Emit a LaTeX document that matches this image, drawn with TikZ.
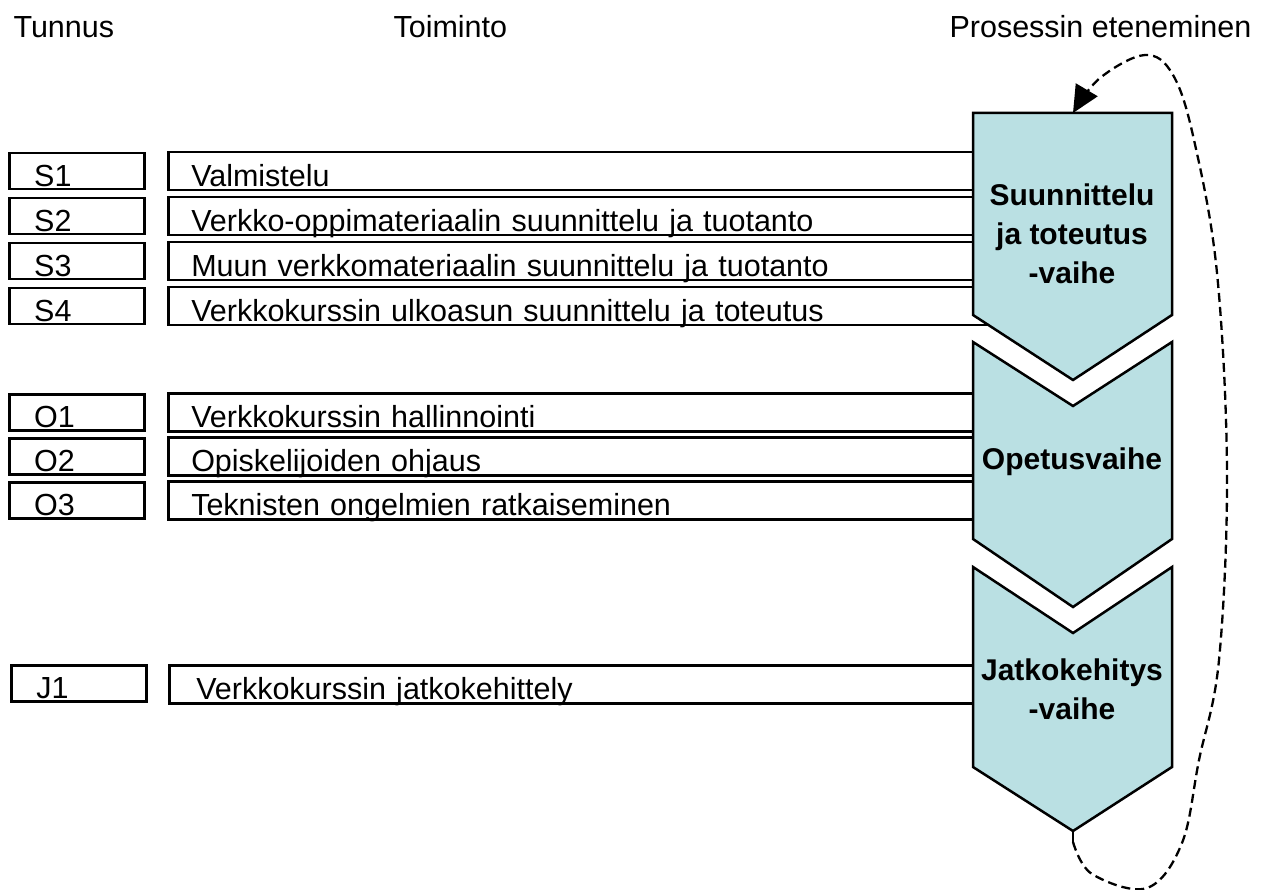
\documentclass[tikz,border=0pt]{standalone}
\usepackage{fontspec}
\setmainfont{Liberation Sans}
\usetikzlibrary{arrows.meta}
\definecolor{chevfill}{RGB}{186,224,227}
\begin{document}
\begin{tikzpicture}[x=1pt,y=-1pt,
  every node/.style={font=\fontsize{30.5}{39}\selectfont},
  idbox/.style={draw, line width=2.5pt, anchor=north west, minimum height=36pt,
    inner xsep=25pt, inner ysep=0pt, text width=85pt, align=left,
    text height=30pt, text depth=0pt},
  actbox/.style={draw, line width=2.5pt, anchor=north west, minimum height=38pt,
    inner xsep=23pt, inner ysep=0pt, text width=800pt, align=left,
    text height=31pt, text depth=0pt},
  chev/.style={draw, line width=2.5pt, fill=chevfill, line join=miter},
  chevtext/.style={align=center, font=\fontsize{30}{39}\selectfont\bfseries},
  head/.style={anchor=base west},
  loop/.style={line width=2.3pt, dash pattern=on 9pt off 5pt,
    -{Triangle[length=27pt,width=25pt]}}
]
\useasboundingbox (0,0) rectangle (1263,890);

% headers
\node[head] (hid) at (10,38) {Tunnus};
\node[head] (hact) at (390,38) {Toiminto};
\node[head] (hproc) at (946,38) {Prosessin eteneminen};

% id boxes
\node[idbox] (s1) at (8,152) {S1};
\node[idbox] (s2) at (8,197) {S2};
\node[idbox] (s3) at (8,242) {S3};
\node[idbox] (s4) at (8,287) {S4};
\node[idbox] (o1) at (8,393) {O1};
\node[idbox] (o2) at (8,437) {O2};
\node[idbox] (o3) at (8,481) {O3};
\node[idbox] (j1) at (10,664) {J1};

% activity boxes
\node[actbox] (a1) at (167,151) {Valmistelu};
\node[actbox] (a2) at (167,196) {Verkko-oppimateriaalin suunnittelu ja tuotanto};
\node[actbox] (a3) at (167,241) {Muun verkkomateriaalin suunnittelu ja tuotanto};
\node[actbox] (a4) at (167,286) {Verkkokurssin ulkoasun suunnittelu ja toteutus};
\node[actbox] (b1) at (167,392) {Verkkokurssin hallinnointi};
\node[actbox] (b2) at (167,436) {Opiskelijoiden ohjaus};
\node[actbox] (b3) at (167,480) {Teknisten ongelmien ratkaiseminen};
\node[actbox, inner xsep=27pt, text width=796pt] (c1) at (168,664) {Verkkokurssin jatkokehittely};

% chevrons
\path[chev] (973,113) -- (1172,113) -- (1172,315) -- (1073,380) -- (973,315) -- cycle;
\path[chev] (973,342) -- (1073,406) -- (1172,342) -- (1172,539) -- (1073,607) -- (973,539) -- cycle;
\path[chev] (973,567) -- (1073,633) -- (1172,567) -- (1172,767) -- (1073,831) -- (973,767) -- cycle;

\node[chevtext] (p1) at (1072,234) {Suunnittelu\\ja toteutus\\-vaihe};
\node[chevtext] (p2) at (1072,462) {Opetusvaihe};
\node[chevtext] (p3) at (1072,689) {Jatkokehitys\\-vaihe};

\coordinate (c3tip) at (1073,831);
\coordinate (c1top) at (1073,113);

% loop arrow
\draw[line width=2.5pt] (c3tip) -- (1073,842);
\draw[loop] plot[smooth, tension=0.6] coordinates {(1073,842) (1092,874) (1147,888) (1182,843) (1199,760) (1219,660) (1227,473) (1217,273) (1194,140) (1173,75) (1145,55) (1100,78) (c1top)};
\end{tikzpicture}
\end{document}
